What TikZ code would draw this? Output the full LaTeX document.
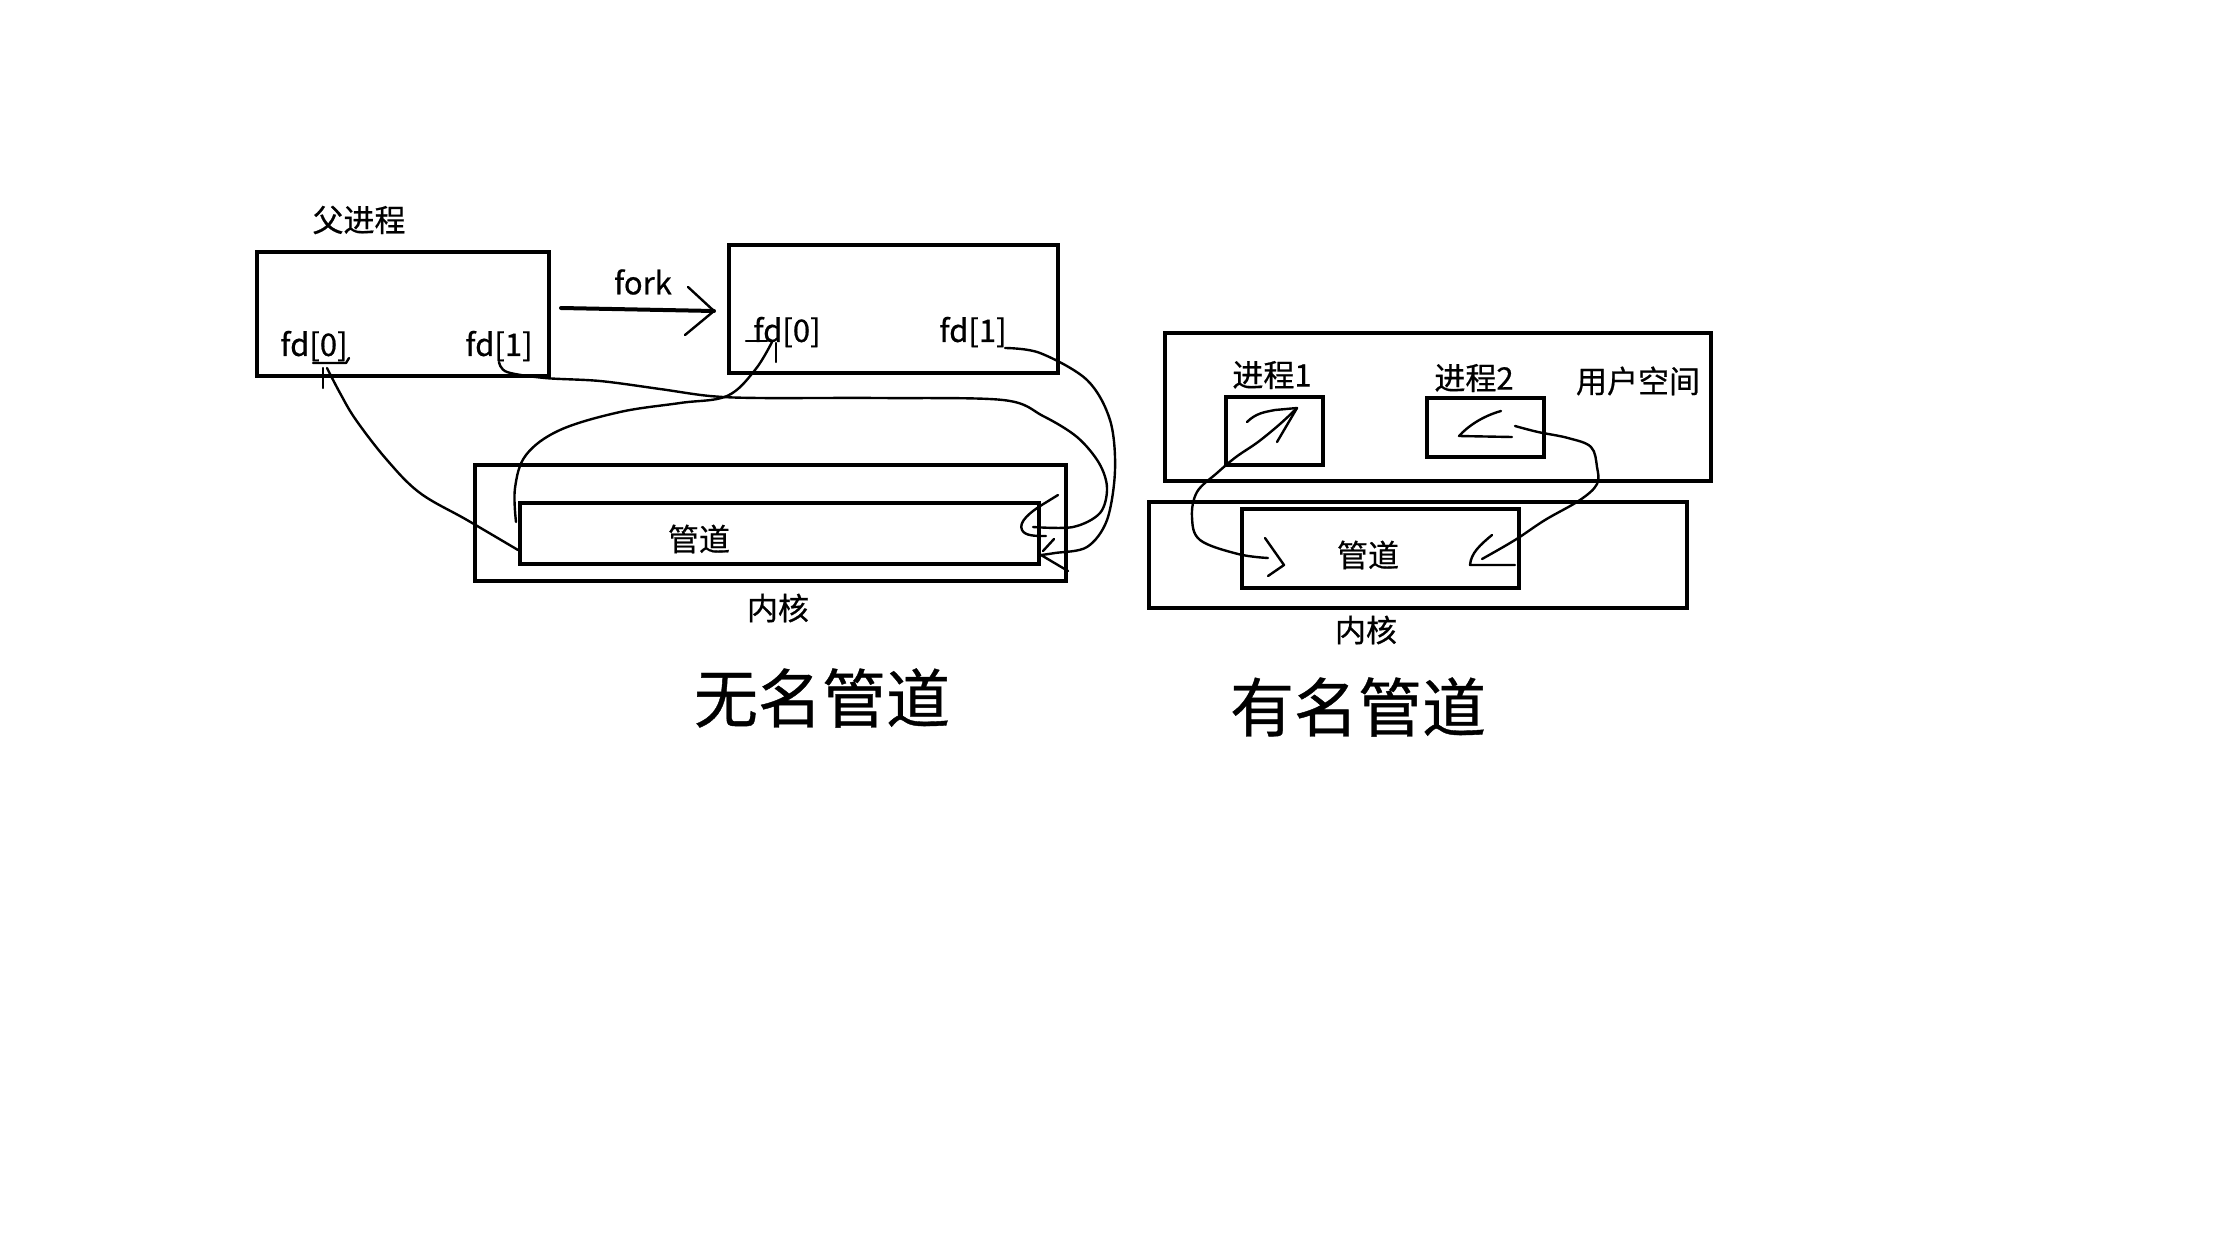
\documentclass[tikz,border=0pt]{standalone}
\usepackage{fontspec}
\setmainfont{Noto Sans CJK SC}[FakeBold=0.6]
\usetikzlibrary{arrows.meta}
\begin{document}
\begin{tikzpicture}[x=1pt,y=-1pt,
  box/.style={draw, line width=4.5pt, inner sep=0pt, outer sep=0pt, anchor=north west},
  lbl/.style={font=\fontsize{31}{36}\selectfont, inner sep=0pt},
  title/.style={font=\fontsize{64}{70}\selectfont, inner sep=0pt},
  conn/.style={line width=2.4pt, line cap=round, line join=round},
  head/.style={line width=2.4pt, line cap=round, line join=round},
]
\useasboundingbox (0,0) rectangle (2223,1250);
\fill[white] (0,0) rectangle (2223,1250);

% ---------------- left: unnamed pipe ----------------
\node[box, minimum width=292pt, minimum height=124pt] (parent) at (257,252) {};
\node[box, minimum width=329pt, minimum height=128pt] (child) at (729,245) {};
\node[box, minimum width=591pt, minimum height=116pt] (kernelL) at (475,465) {};
\node[box, minimum width=519pt, minimum height=61pt] (pipeL) at (520,503) {};

\node[lbl] (lparent) at (359,220) {父进程};
\node[lbl] (pfd0) at (314,346) {fd[0]};
\node[lbl] (pfd1) at (499,346) {fd[1]};
\node[lbl] (cfd0) at (787,332) {fd[0]};
\node[lbl] (cfd1) at (973,332) {fd[1]};
\node[lbl] (forklbl) at (643,282) {fork};
\node[lbl] (pipeLlbl) at (699,539) {管道};
\node[lbl] (kernelLlbl) at (778,608) {内核};
\node[title] (titleL) at (822,698) {无名管道};

% fork arrow
\coordinate (fs) at (561,308);
\coordinate (fe) at (714,311);
\draw[line width=4pt, line cap=round] (fs) -- (fe);
\draw[head] (688,287) -- (fe) -- (685,335);

% curve A: pipe -> parent fd[0]
\coordinate (a0) at (518,550);
\coordinate (a1) at (327,368);
\draw[conn] plot[smooth, tension=0.6] coordinates {(a0) (467,520) (420,493) (387,460) (356,420) (340,393) (a1)};
\draw[head] (323,368) -- (323,388);
\draw[head] (313,363) -- (346,363) -- (349,358);

% curve B: pipe -> child fd[0]
\coordinate (b0) at (516,522);
\coordinate (b1) at (772,342);
\draw[conn] plot[smooth, tension=0.6] coordinates {(b0) (515,488) (526,455) (560,430) (620,412) (680,403) (727,396) (755,370) (b1)};
\draw[head] (746,341) -- (767,341);
\draw[head] (776,343) -- (776,362);

% curve C: parent fd[1] -> pipe
\coordinate (c0) at (499,362);
\coordinate (c1) at (1033,527);
\draw[conn] plot[smooth, tension=0.55] coordinates {(c0) (507,372) (545,378) (600,381) (660,389) (710,396) (760,398) (880,398) (1003,400) (1043,416) (1077,437) (1099,463) (1107,488) (1100,513) (1073,527) (c1)};
\draw[head] (1058,495) -- (1045,503) .. controls (1030,512) and (1018,522) .. (1022,530) .. controls (1025,536) and (1035,536) .. (1046,536);

% curve D: child fd[1] -> pipe
\coordinate (d0) at (1005,348);
\coordinate (d1) at (1041,555);
\draw[conn] plot[smooth, tension=0.55] coordinates {(d0) (1040,353) (1087,380) (1110,420) (1115,470) (1107,520) (1087,547) (1055,553) (d1)};
\draw[head] (1054,539) -- (1043,551);
\draw[head] (d1) -- (1068,571);

% ---------------- right: named pipe ----------------
\node[box, minimum width=546pt, minimum height=148pt] (user) at (1165,333) {};
\node[box, minimum width=97pt, minimum height=68pt] (p1) at (1226,397) {};
\node[box, minimum width=117pt, minimum height=59pt] (p2) at (1427,398) {};
\node[box, minimum width=538pt, minimum height=106pt] (kernelR) at (1149,502) {};
\node[box, minimum width=277pt, minimum height=79pt] (pipeR) at (1242,509) {};

\node[lbl] (p1lbl) at (1272,375) {进程1};
\node[lbl] (p2lbl) at (1474,378) {进程2};
\node[lbl] (userlbl) at (1638,381) {用户空间};
\node[lbl] (pipeRlbl) at (1368,555) {管道};
\node[lbl] (kernelRlbl) at (1366,630) {内核};
\node[title] (titleR) at (1358,707) {有名管道};

% curve E: pipe <-> process 1
\coordinate (e0) at (1268,558);
\coordinate (e1) at (1297,408);
\draw[conn] plot[smooth, tension=0.6] coordinates {(e0) (1238,554) (1200,540) (1192,517) (1197,492) (1217,473) (1236,457) (1258,442) (1280,424) (e1)};
\draw[head] (1247,422) .. controls (1256,413) and (1265,412) .. (1275,410) -- (e1) -- (1277,442);
\draw[head] (1265,538) -- (1284,565) -- (1268,576);

% process 2 arrow
\draw[head] (1501,411) .. controls (1483,416) and (1468,426) .. (1459,436) -- (1512,437);

% curve F: process 2 -> pipe
\coordinate (f0) at (1515,426);
\coordinate (f1) at (1482,559);
\draw[conn] plot[smooth, tension=0.6] coordinates {(f0) (1538,432) (1568,438) (1591,447) (1597,467) (1597,484) (1580,500) (1545,520) (1515,540) (f1)};
\draw[head] (1492,535) .. controls (1480,545) and (1471,553) .. (1470,565) -- (1515,565);

\end{tikzpicture}
\end{document}
